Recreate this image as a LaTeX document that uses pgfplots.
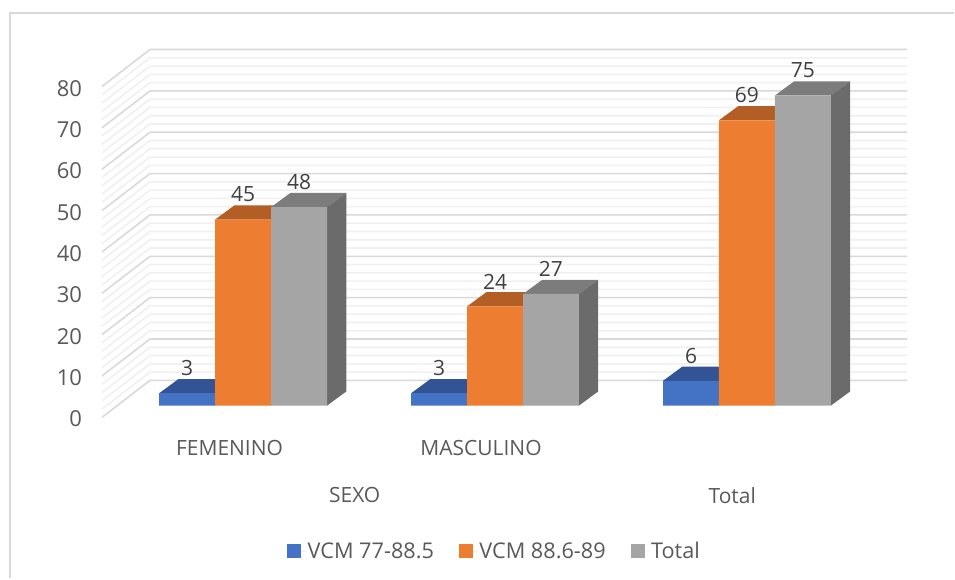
\documentclass[border=0pt]{standalone}
\usepackage{fontspec}
\setmainfont{Open Sans}
\usepackage{pgfplots}
\pgfplotsset{compat=1.18}

\definecolor{bluefront}{HTML}{4472C4}
\definecolor{bluetop}{HTML}{325494}
\definecolor{orangefront}{HTML}{ED7D31}
\definecolor{orangetop}{HTML}{B35E24}
\definecolor{grayfront}{HTML}{A5A5A5}
\definecolor{graytop}{HTML}{7C7C7C}
\definecolor{grayside}{HTML}{6B6B6B}
\definecolor{gridmajor}{HTML}{D9D9D9}
\definecolor{gridminor}{HTML}{F0F0F0}
\definecolor{labeltext}{HTML}{595959}
\definecolor{valuetext}{HTML}{404040}

% top and side of one bar: left x, value, top colour, side colour
\newcommand{\barfaces}[4]{%
  \pgfmathsetmacro\xa{#1+56}%
  \pgfmathsetmacro\xb{#1+75.3}%
  \pgfmathsetmacro\xc{#1+19.3}%
  \pgfmathsetmacro\vb{#2+3.43}%
  \edef\temp{\noexpand\addplot[forget plot,fill=#3,draw=none] coordinates {(#1,#2) (\xa,#2) (\xb,\vb) (\xc,\vb)};
    \noexpand\addplot[forget plot,fill=#4,draw=none] coordinates {(\xa,0) (\xb,3.43) (\xb,\vb) (\xa,#2)};}%
  \temp}

% one gridline: front end, back corner, right end
\newcommand{\gridline}[2]{%
  \pgfmathsetmacro\ga{#1-2.83}%
  \pgfmathsetmacro\gb{#1+6.11}%
  \edef\temp{\noexpand\addplot[forget plot,#2,line width=1.6pt] coordinates {(102,\ga) (150,\gb) (908,\gb)};}%
  \temp}

\pgfplotsset{
  swatch/.style={legend image code/.code={\path (0pt,0pt) -- (18.5pt,0pt);\fill[#1] (0pt,-7pt) rectangle (14pt,7pt);}},
  front/.style={ybar,bar width=56pt,bar shift=0pt,draw=none,fill=#1,swatch=#1,
    nodes near coords,
    every node near coord/.append style={font=\fontsize{21}{21}\selectfont,text=valuetext,anchor=center,yshift=25pt}},
}

\begin{document}
\begin{tikzpicture}
\begin{axis}[
    scale only axis,
    width=955pt,
    height=579pt,
    xmin=0, xmax=955,
    ymin=-41.79, ymax=98.07,
    clip=false,
    axis line style={draw=none},
    major tick length=0pt,
    /pgf/number format/assume math mode=true,
    ytick={0,10,...,80},
    yticklabel style={font=\fontsize{22}{22}\selectfont,text=labeltext,anchor=east,xshift=85.5pt,yshift=-13.5pt},
    xtick={229.7,481.5},
    xticklabels={FEMENINO,MASCULINO},
    xticklabel style={font=\fontsize{21}{21}\selectfont,text=labeltext,anchor=center,yshift=131pt},
    legend style={at={(axis cs:495,-35.2)},anchor=center,draw=none,fill=none,
      font=\fontsize{21.7}{22}\selectfont,text=labeltext,legend columns=3,
      /tikz/every even column/.append style={column sep=23pt}},
  ]

  \addplot[forget plot,gridmajor,line width=2pt] coordinates {(9.5,-41.79) (9.5,94.93) (955,94.93)};

  \pgfplotsforeachungrouped \v in {0,10,...,70} {
    \pgfplotsforeachungrouped \m in {2,4,6,8} {
      \pgfmathsetmacro\w{\v+\m}
      \gridline{\w}{gridminor}
    }
  }
  \pgfplotsforeachungrouped \v in {0,10,...,80} {
    \gridline{\v}{gridmajor}
  }

  \barfaces{159.3}{3}{bluetop}{grayside}
  \barfaces{411.5}{3}{bluetop}{grayside}
  \barfaces{663.7}{6}{bluetop}{grayside}
  \addplot[front=bluefront] coordinates {(187.3,3) (439.5,3) (691.7,6)};
  \addlegendentry{VCM 77-88.5}

  \barfaces{215.3}{45}{orangetop}{grayside}
  \barfaces{467.5}{24}{orangetop}{grayside}
  \barfaces{719.7}{69}{orangetop}{grayside}
  \addplot[front=orangefront] coordinates {(243.3,45) (495.5,24) (747.7,69)};
  \addlegendentry{VCM 88.6-89}

  \barfaces{271.3}{48}{graytop}{grayside}
  \barfaces{523.5}{27}{graytop}{grayside}
  \barfaces{775.7}{75}{graytop}{grayside}
  \addplot[front=grayfront] coordinates {(299.3,48) (551.5,27) (803.7,75)};
  \addlegendentry{Total}

  \node[font=\fontsize{21}{21}\selectfont,text=labeltext] at (axis cs:355,-21.7) {SEXO};
  \node[font=\fontsize{21}{21}\selectfont,text=labeltext] at (axis cs:733,-21.7) {Total};
\end{axis}
\end{tikzpicture}
\end{document}
